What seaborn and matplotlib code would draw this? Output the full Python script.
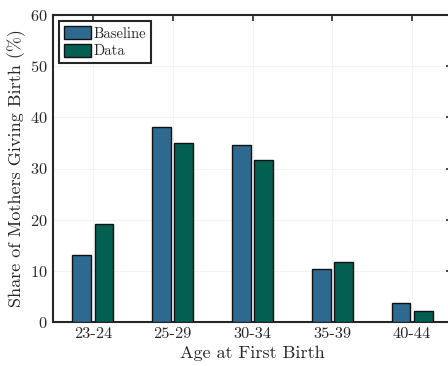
import pandas as pd
import matplotlib
matplotlib.use("Agg")
import matplotlib.pyplot as plt
import seaborn as sns

# Данные
age_groups = ['23-24', '25-29', '30-34', '35-39', '40-44']
baseline = [13.1, 38.1, 34.5, 10.3, 3.7]
data_vals = [19.2, 35.0, 31.6, 11.7, 2.1]
series = ['Baseline', 'Data']
colors = ['#2e6a8f', '#035f52']

df = pd.DataFrame({
    'age': age_groups * 2,
    'share': baseline + data_vals,
    'series': ['Baseline'] * len(age_groups) + ['Data'] * len(age_groups),
})

sns.set_style('white')
plt.rcParams['font.family'] = 'serif'
plt.rcParams['font.serif'] = ['cmr10', 'DejaVu Serif']
plt.rcParams['mathtext.fontset'] = 'cm'
plt.rcParams['axes.formatter.use_mathtext'] = True

fig = plt.figure(figsize=(4.48, 3.66), dpi=100)
ax = fig.add_axes([53 / 448, 44 / 366, 399 / 448, 307 / 366])

sns.barplot(data=df, x='age', y='share', hue='series', order=age_groups,
            hue_order=series, palette=colors, saturation=1, width=0.56, gap=0.16,
            edgecolor='#111111', linewidth=1.0, ax=ax, zorder=3)

ax.set_xlim(-0.5, 4.5)
ax.set_ylim(0, 60)
ax.set_yticks(range(0, 61, 10))
ax.grid(True, color='#f3f3f3', linewidth=0.8, zorder=0)
ax.set_axisbelow(True)

for s in ax.spines.values():
    s.set_color('#262626')
    s.set_linewidth(1.5)

ax.tick_params(direction='in', length=4, width=1.2, color='#262626',
               top=True, right=True, labelsize=11.8, pad=4, labelcolor='#262626')

ax.set_xlabel('Age at First Birth', fontsize=13, color='#262626', labelpad=3)
ax.set_ylabel('Share of Mothers Giving Birth (%)', fontsize=13, color='#262626', labelpad=3)

leg = ax.legend(loc='upper left', fontsize=10.5, frameon=True, fancybox=False,
                edgecolor='#262626', framealpha=1, borderpad=0.35,
                handlelength=1.85, handleheight=1.05, handletextpad=0.2,
                labelspacing=0.2, borderaxespad=0.4)
leg.get_frame().set_linewidth(1.5)
leg.set_title(None)

fig.savefig('out.png', dpi=100)
